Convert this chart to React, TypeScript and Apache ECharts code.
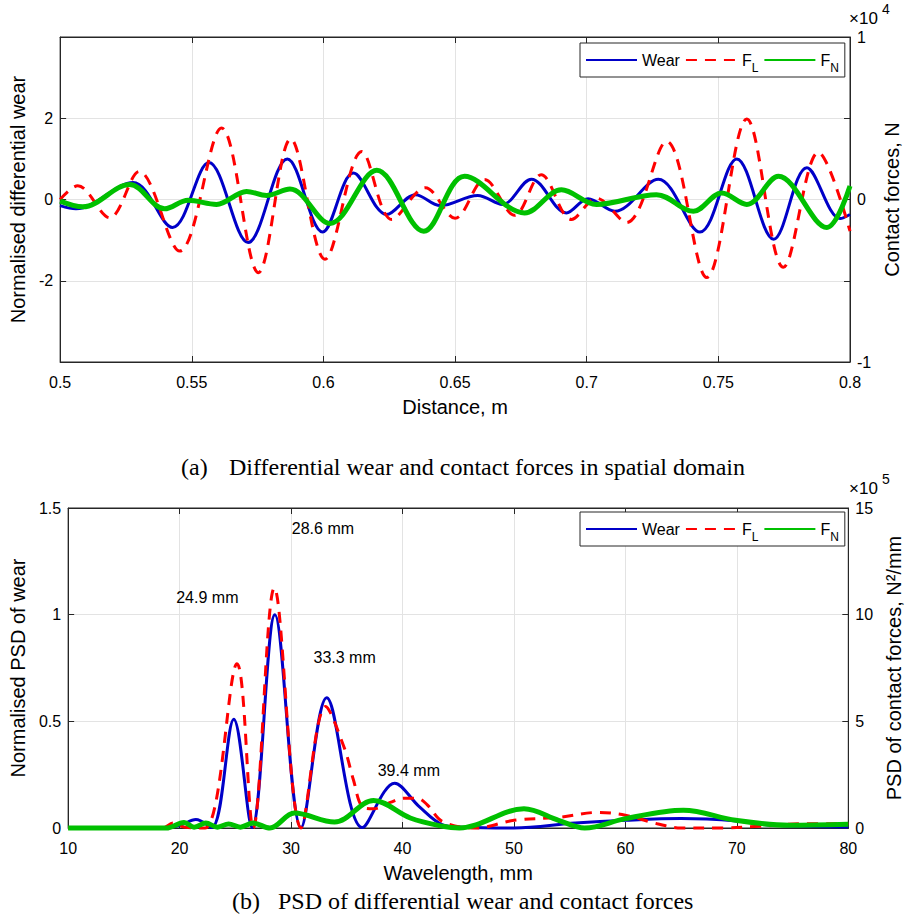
import React, { useEffect, useRef } from 'react';
import * as echarts from 'echarts';

// ---------- (a) spatial domain ----------
const distWear = [0.5, 0.506, 0.5277, 0.5427, 0.5565, 0.5714, 0.5863, 0.5997, 0.6114, 0.624, 0.635, 0.6444, 0.6586, 0.668, 0.679, 0.6923, 0.7005, 0.7107, 0.7272, 0.743, 0.757, 0.771, 0.7836, 0.7963, 0.8];
const wearSpatial = [-0.15, -0.23, 0.42, -0.69, 0.91, -1.06, 1.0, -0.8, 0.65, -0.37, 0.12, -0.15, 0.1, -0.12, 0.5, -0.33, 0.02, -0.29, 0.5, -0.8, 1.0, -0.98, 0.78, -0.47, -0.37];

const distFL = [0.5, 0.5067, 0.5188, 0.53, 0.5454, 0.5613, 0.5753, 0.5876, 0.6006, 0.6146, 0.626, 0.6387, 0.65, 0.6612, 0.6726, 0.6827, 0.6942, 0.7037, 0.7151, 0.7303, 0.7456, 0.7608, 0.7747, 0.788, 0.8];
const fLSpatial = [0, 850, -1125, 1725, -3175, 4400, -4500, 3725, -3675, 2950, -1225, 725, -1150, 1225, -975, 1525, -1225, 75, -1425, 3575, -4800, 4950, -4175, 2900, -1950];

const distFN = [0.5, 0.5086, 0.5264, 0.5397, 0.5486, 0.5594, 0.5708, 0.5784, 0.5873, 0.6025, 0.6203, 0.6381, 0.6536, 0.6764, 0.6904, 0.7037, 0.7265, 0.7405, 0.7513, 0.7608, 0.7728, 0.7912, 0.8];
const fNSpatial = [-100, -450, 925, -575, -50, -300, 500, 250, 650, -1475, 1800, -1950, 1425, -825, 600, -300, 300, -725, 400, -300, 1425, -1725, 825];

// ---------- (b) PSD ----------
const wlWear = [10, 18, 20, 21.46, 22.9, 24.86, 26.5, 28.55, 30.9, 33.2, 36.4, 39.3, 41.5, 43.6, 45.4, 50, 55.5, 60, 65, 70, 73.2, 80];
const wearPSD = [0, 0, 0.012, 0.04, 0.002, 0.51, 0.002, 1.0, 0.002, 0.61, 0.002, 0.21, 0.1, 0.015, 0.004, 0, 0.023, 0.036, 0.044, 0.033, 0.0125, 0.005];

const wlFL = [10, 18.5, 19.4, 20.5, 22.3, 25.15, 26.6, 28.5, 30.9, 33.1, 34.75, 35.6, 36.4, 37.4, 38.9, 40.1, 41.3, 42.2, 43.6, 46.6, 50, 54, 57.5, 60, 62.85, 65, 68.8, 72, 76.1, 80];
const fLPSD = [0, 0, 23000, 3000, 0, 770000, 0, 1125000, 0, 570000, 380000, 225000, 100000, 90000, 120000, 140000, 140000, 110000, 30000, 0, 36000, 50000, 73000, 60000, 20000, 0, 0, 8000, 20000, 20000];

const wlFN = [10, 18.8, 20.4, 21.3, 22.35, 23.4, 24.4, 25.45, 26.6, 28.1, 30.3, 33.9, 37.4, 40.7, 43.6, 45.1, 50.9, 54, 56.35, 60, 65.2, 69.9, 74.7, 80];
const fNPSD = [0, 0, 26000, 4000, 23000, 4000, 19000, 4000, 23000, 0, 70000, 28000, 129000, 47000, 8000, 0, 90000, 36000, 0, 44000, 83000, 36000, 12500, 17000];

const annLabels = ['28.6 mm', '24.9 mm', '33.3 mm', '39.4 mm'];
const annX = [32.86, 22.49, 34.81, 40.57];
const annY = [1.405, 1.079, 0.798, 0.268];

const legendNames = ['Wear', 'F_L', 'F_N'];

const BLUE = '#0000C8';
const RED = '#FF0000';
const GREEN = '#00C000';
const AX = '#262626';
const GRIDC = '#e3e3e3';
const SANS = '"Liberation Sans", Arial, Helvetica, sans-serif';
const SERIF = '"Liberation Serif", "Times New Roman", serif';

const zip = (xs: number[], ys: number[]) => xs.map((x, i) => [x, ys[i]]);

export default function App() {
  const ref = useRef<HTMLDivElement>(null);
  useEffect(() => {
    const chart = echarts.init(ref.current!, null, { renderer: 'svg' });

    const baseX = (grid: number, min: number, max: number, interval: number, fmt: (v: number) => string, name: string) => ({
      type: 'value', gridIndex: grid, min, max, interval, position: 'bottom',
      name, nameLocation: 'middle', nameGap: 35,
      nameTextStyle: { fontFamily: SANS, fontSize: 20, color: '#000' },
      axisLine: { show: true, onZero: false, lineStyle: { color: AX, width: 1 } },
      axisTick: { show: true, inside: true, length: 6, lineStyle: { color: AX } },
      axisLabel: { fontFamily: SANS, fontSize: 16, color: '#000', margin: 12, formatter: fmt },
      splitLine: { show: true, lineStyle: { color: GRIDC, width: 1 } },
    });
    const topMirror = (grid: number, min: number, max: number, interval: number) => ({
      type: 'value', gridIndex: grid, min, max, interval, position: 'top',
      axisLine: { show: true, onZero: false, lineStyle: { color: AX } },
      axisTick: { show: true, inside: true, length: 6, lineStyle: { color: AX } },
      axisLabel: { show: false }, splitLine: { show: false },
    });
    const yAx = (grid: number, pos: string, min: number, max: number, interval: number, fmt: (v: number) => string, name: string, gap: number, split: boolean) => ({
      type: 'value', gridIndex: grid, position: pos, min, max, interval,
      name, nameLocation: 'middle', nameGap: gap,
      nameTextStyle: { fontFamily: SANS, fontSize: 20, color: '#000' },
      axisLine: { show: true, onZero: false, lineStyle: { color: AX, width: 1 } },
      axisTick: { show: true, inside: true, length: 6, lineStyle: { color: AX } },
      axisLabel: { fontFamily: SANS, fontSize: 16, color: '#000', margin: 7, formatter: fmt },
      splitLine: { show: split, lineStyle: { color: GRIDC, width: 1 } },
    });

    const lineSeries = (name: string, xi: number, yi: number, data: number[][], color: string, width: number, dashed: boolean, z: number) => ({
      name, type: 'line', xAxisIndex: xi, yAxisIndex: yi, data,
      showSymbol: false, symbol: 'none', smooth: 0.35, clip: false, z,
      lineStyle: { color, width, type: dashed ? [11, 8] : 'solid' },
      itemStyle: { color },
    });

    const legendCfg = (top: number) => ({
      left: 580, top, orient: 'horizontal',
      data: legendNames,
      itemWidth: 51, itemHeight: 14, itemGap: 5,
      padding: [3, 6, 3, 5],
      borderColor: AX, borderWidth: 1, backgroundColor: '#fff',
      selectedMode: false,
      itemStyle: { opacity: 0 },
      formatter: (n: string) => (n === 'F_L' ? 'F{sub|L}' : n === 'F_N' ? 'F{sub|N}' : n),
      textStyle: {
        fontFamily: SANS, fontSize: 16, color: '#000', lineHeight: 28,
        rich: { sub: { fontFamily: SANS, fontSize: 12, color: '#000', verticalAlign: 'bottom' } },
      },
    });

    const wearPSDSeries: any = lineSeries('Wear', 2, 2, zip(wlWear, wearPSD), BLUE, 3, false, 3);
    wearPSDSeries.markPoint = {
      symbol: 'circle', symbolSize: 1, silent: true,
      itemStyle: { color: 'rgba(0,0,0,0)' },
      label: { show: true, position: 'inside', formatter: '{b}', fontFamily: SANS, fontSize: 16, color: '#000' },
      data: annLabels.map((t, i) => ({ name: t, coord: [annX[i], annY[i]] })),
    };

    const option: any = {
      animation: false,
      backgroundColor: '#fff',
      grid: [
        { left: 60, top: 37, width: 790, height: 325, show: true, borderColor: AX, borderWidth: 1, backgroundColor: 'transparent' },
        { left: 60, top: 508, width: 790, height: 320, show: true, borderColor: AX, borderWidth: 1, backgroundColor: 'transparent' },
      ],
      xAxis: [
        baseX(0, 0.5, 0.8, 0.05, (v) => String(+v.toFixed(2)), 'Distance, m'),
        topMirror(0, 0.5, 0.8, 0.05),
        baseX(1, 10, 80, 10, (v) => String(Math.round(v)), 'Wavelength, mm'),
        topMirror(1, 10, 80, 10),
      ],
      yAxis: [
        yAx(0, 'left', -4, 4, 2, (v) => (Math.abs(v) === 4 ? '' : String(v)), 'Normalised differential wear', 22, true),
        yAx(0, 'right', -10000, 10000, 5000, (v) => (v === 10000 ? '1' : v === 0 ? '0' : v === -10000 ? '-1' : ''), 'Contact forces, N', 31, false),
        yAx(1, 'left', 0, 1.5, 0.5, (v) => String(+v.toFixed(1)), 'Normalised PSD of wear', 22, true),
        yAx(1, 'right', 0, 1500000, 500000, (v) => String(Math.round(v / 100000)), 'PSD of contact forces, N²/mm', 31, false),
      ],
      legend: [legendCfg(43), legendCfg(512)],
      series: [
        lineSeries('Wear', 0, 0, zip(distWear, wearSpatial), BLUE, 3, false, 3),
        lineSeries('F_L', 0, 1, zip(distFL, fLSpatial), RED, 3, true, 4),
        lineSeries('F_N', 0, 1, zip(distFN, fNSpatial), GREEN, 5, false, 5),
        wearPSDSeries,
        lineSeries('F_L', 2, 3, zip(wlFL, fLPSD), RED, 3, true, 4),
        lineSeries('F_N', 2, 3, zip(wlFN, fNPSD), GREEN, 5, false, 5),
      ],
      graphic: [
        { type: 'text', left: 849, top: 10, style: { text: '×10', font: `17px ${SANS}`, fill: '#000' } },
        { type: 'text', left: 882, top: 2, style: { text: '4', font: `14px ${SANS}`, fill: '#000' } },
        { type: 'text', left: 849, top: 480, style: { text: '×10', font: `17px ${SANS}`, fill: '#000' } },
        { type: 'text', left: 882, top: 472, style: { text: '5', font: `14px ${SANS}`, fill: '#000' } },
        { type: 'text', left: 181, top: 455, style: { text: '(a)', font: `24px ${SERIF}`, fill: '#000' } },
        { type: 'text', left: 229, top: 455, style: { text: 'Differential wear and contact forces in spatial domain', font: `24px ${SERIF}`, fill: '#000' } },
        { type: 'text', left: 232, top: 889, style: { text: '(b)', font: `24px ${SERIF}`, fill: '#000' } },
        { type: 'text', left: 278, top: 889, style: { text: 'PSD of differential wear and contact forces', font: `24px ${SERIF}`, fill: '#000' } },
      ],
    };
    chart.setOption(option);
    return () => chart.dispose();
  }, []);
  return <div ref={ref} style={{ position: 'absolute', left: 0, top: 0, width: 912, height: 914 }} />;
}
